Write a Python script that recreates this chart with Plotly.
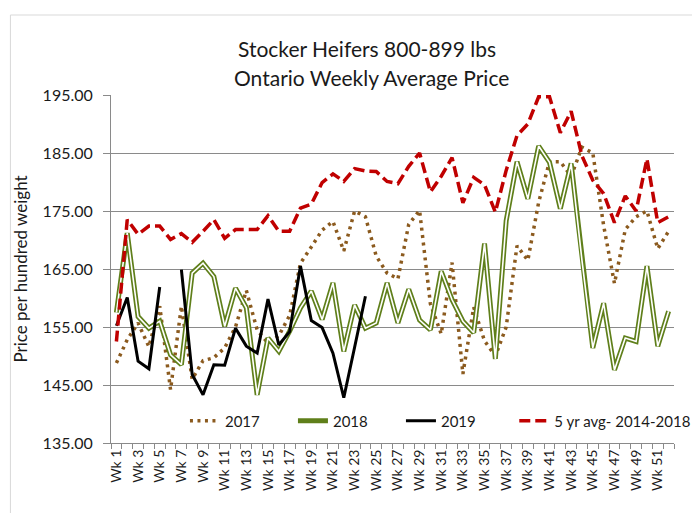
import plotly.graph_objects as go

weeks = list(range(1, 53))
tick_weeks = list(range(1, 53, 2))
tick_labels = [f"Wk {w}" for w in tick_weeks]

y2017 = [148.8, 152.8, 155.7, 151.6, 158.6, 144.2, 158.6, 146.0, 149.2, 149.7,
         151.4, 155.0, 161.3, 154.5, 152.2, 153.5, 157.0, 166.0, 168.8, 171.7,
         173.2, 168.1, 175.0, 174.0, 167.2, 164.3, 163.3, 172.7, 175.1, 159.0,
         153.8, 166.1, 146.9, 158.4, 152.6, 150.0, 155.0, 169.0, 166.5, 176.5,
         183.5, 183.5, 181.0, 186.0, 185.0, 172.5, 162.5, 171.8, 174.0, 175.0,
         168.5, 171.5]

y2018 = [157.5, 171.2, 156.8, 154.8, 156.0, 150.2, 148.5, 164.3, 166.0, 163.7,
         155.1, 161.7, 158.3, 143.3, 153.1, 150.8, 154.3, 158.3, 161.2, 156.3,
         162.6, 150.8, 158.8, 154.8, 155.7, 162.6, 155.7, 161.5, 156.2, 154.5,
         164.6, 159.7, 156.0, 154.0, 169.4, 149.5, 173.3, 183.5, 177.1, 186.2,
         183.4, 175.4, 183.2, 166.5, 151.4, 159.1, 147.6, 153.1, 152.5, 165.5,
         151.7, 157.7]

y2019 = [155.2, 160.1, 149.1, 147.8, 161.9, None, 164.9, 146.8, 143.3, 148.5,
         148.4, 154.8, 151.7, 150.5, 159.8, 151.9, 154.2, 165.5, 156.1, 154.9,
         150.5, 142.8, 151.5, 160.3]

y5yr = [152.5, 173.5, 171.0, 172.4, 172.4, 170.1, 171.1, 169.6, 171.5, 173.5,
        170.3, 171.8, 171.8, 171.8, 174.2, 171.5, 171.5, 175.5, 176.2, 179.9,
        181.4, 180.1, 182.3, 181.9, 181.8, 180.1, 179.7, 182.7, 185.0, 178.3,
        181.0, 184.2, 176.4, 180.8, 179.5, 174.8, 182.0, 188.0, 190.0, 194.7,
        194.7, 188.5, 192.2, 184.5, 180.3, 178.0, 173.0, 177.6, 175.0, 184.0,
        173.0, 174.0]

FONT = "Lato"
TXT = "#1a1a1a"
GRID = "#8a8a8a"

fig = go.Figure()

fig.add_trace(go.Scatter(
    x=weeks, y=y2017, name="2017", mode="lines",
    line=dict(color="#8B5A1E", width=3.5, dash="3px,4.5px")))

fig.add_trace(go.Scatter(
    x=weeks, y=y2018, name="2018", mode="lines", legendgroup="g18",
    line=dict(color="#5F7F1A", width=5)))
fig.add_trace(go.Scatter(
    x=weeks, y=y2018, name="2018", mode="lines", legendgroup="g18",
    showlegend=False, hoverinfo="skip",
    line=dict(color="white", width=1.6)))

fig.add_trace(go.Scatter(
    x=weeks[:len(y2019)], y=y2019, name="2019", mode="lines",
    connectgaps=False,
    line=dict(color="black", width=3)))

fig.add_trace(go.Scatter(
    x=weeks, y=y5yr, name="5 yr avg- 2014-2018", mode="lines", legend="legend2",
    line=dict(color="#C00000", width=3.5, dash="11px,5px")))

# plot area in px: x 103..674, y 87..435
def px_x(p):
    return (p - 103) / 571.0

def px_y(p):
    return (435 - p) / 348.0

fig.add_shape(type="rect", xref="paper", yref="paper",
              x0=px_x(1), x1=px_x(697), y0=px_y(510), y1=px_y(7),
              line=dict(color="#d9d9d9", width=1), fillcolor="rgba(0,0,0,0)",
              layer="below")

fig.add_annotation(text="Stocker Heifers 800-899 lbs", xref="paper", yref="paper",
                   x=px_x(363), y=px_y(40), xanchor="center", yanchor="middle",
                   showarrow=False, font=dict(family=FONT, size=21, color=TXT))
fig.add_annotation(text="Ontario Weekly Average Price", xref="paper", yref="paper",
                   x=px_x(367), y=px_y(70), xanchor="center", yanchor="middle",
                   showarrow=False, font=dict(family=FONT, size=21, color=TXT))

legend_common = dict(orientation="h", xanchor="left", yanchor="middle",
                     bgcolor="rgba(0,0,0,0)",
                     font=dict(family=FONT, size=15, color=TXT), itemwidth=30)

fig.update_layout(
    width=700, height=513,
    margin=dict(l=103, r=26, t=87, b=78),
    paper_bgcolor="white", plot_bgcolor="white",
    font=dict(family=FONT, color=TXT),
    showlegend=True,
    legend=dict(x=px_x(178), y=px_y(413), entrywidth=63, **legend_common),
    legend2=dict(x=px_x(512), y=px_y(413), **legend_common),
    xaxis=dict(
        range=[0.5, 52.5], tickmode="array", tickvals=tick_weeks, ticktext=tick_labels,
        tickangle=-90, tickfont=dict(family=FONT, size=14, color=TXT),
        showgrid=False, zeroline=False, showline=True, linecolor=GRID, linewidth=1,
        ticks="",
        minor=dict(tickmode="linear", tick0=0.5, dtick=1, ticks="outside",
                   ticklen=5, tickcolor=GRID, showgrid=False),
    ),
    yaxis=dict(
        range=[135, 195], tickmode="array",
        tickvals=[135, 145, 155, 165, 175, 185, 195],
        tickformat=".2f", tickfont=dict(family=FONT, size=16, color=TXT),
        showgrid=True, gridcolor=GRID, gridwidth=1, zeroline=False,
        showline=True, linecolor=GRID, linewidth=1,
        ticks="outside", ticklen=7, tickcolor=GRID, ticklabelstandoff=7,
        title=dict(text="Price per hundred weight", font=dict(family=FONT, size=17, color=TXT),
                   standoff=10),
    ),
)

fig.write_html("out.html")
